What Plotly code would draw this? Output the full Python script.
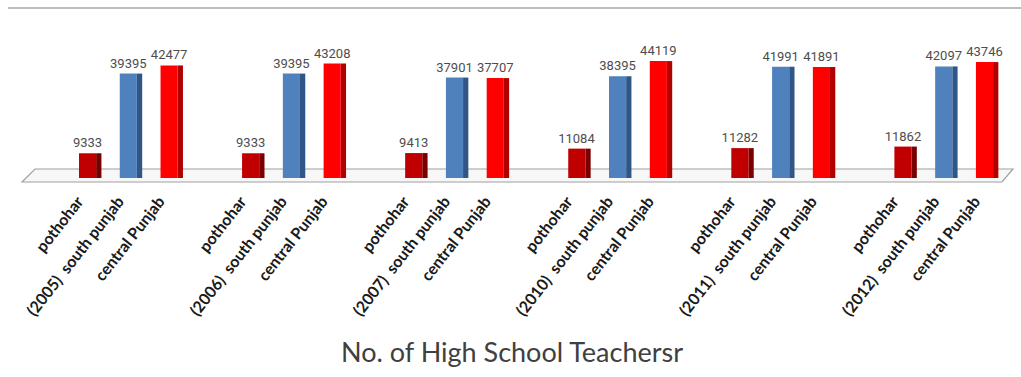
import plotly.graph_objects as go

years = ["2005", "2006", "2007", "2010", "2011", "2012"]
regions = ["pothohar", "south punjab", "central Punjab"]
pothohar = [9333, 9333, 9413, 11084, 11282, 11862]
south_punjab = [39395, 39395, 37901, 38395, 41991, 42097]
central_punjab = [42477, 43208, 37707, 44119, 41891, 43746]

series = [pothohar, south_punjab, central_punjab]
front_colors = ["#C00000", "#4F81BD", "#FF0000"]
side_colors = ["#7A0000", "#2F5687", "#B00000"]

W, H = 1021, 377
PT, PB = 10, 178  # plot area top/bottom pixels
LABEL_SHIFT = -0.3  # rotated tick labels sit slightly left of bar centres


def px(x):
    return x / W


def py(y):
    return (PB - y) / (PB - PT)


fig = go.Figure()

tickvals, ticktext = [], []
for j, (vals, region) in enumerate(zip(series, regions)):
    xs = [4 * i + j for i in range(len(years))]
    # darker side face
    fig.add_trace(go.Bar(
        x=xs, y=vals, width=0.13, offset=0.15,
        marker=dict(color=side_colors[j], line=dict(width=0)),
        hoverinfo="skip", showlegend=False,
    ))
    # front face with labels
    fig.add_trace(go.Bar(
        x=xs, y=vals, width=0.42, offset=-0.27,
        marker=dict(color=front_colors[j], line=dict(width=0)),
        text=[str(v) for v in vals], textposition="outside",
        constraintext="none", textangle=0,
        textfont=dict(family="Roboto", size=13, color="#4D4D4D"),
        cliponaxis=False, name=region, showlegend=False,
    ))
    for i, yr in enumerate(years):
        tickvals.append(4 * i + j + LABEL_SHIFT)
        if j == 1:
            ticktext.append("(" + yr + ")\u00a0\u00a0" + region)
        else:
            ticktext.append(region)

# floor plane
floor = (f"M {px(22)},{py(182)} L {px(35)},{py(169)} "
         f"L {px(1013)},{py(169)} L {px(1002)},{py(182)} Z")
fig.add_shape(type="path", path=floor, xref="paper", yref="paper",
              fillcolor="#F7F7F7", line=dict(color="#A0A0A0", width=1.2), layer="below")
# top rule
fig.add_shape(type="line", xref="paper", yref="paper",
              x0=px(8), x1=px(1021), y0=py(8), y1=py(8),
              line=dict(color="#A6A6A6", width=1.5))

fig.add_annotation(text="No. of High School Teachersr", xref="paper", yref="paper",
                   x=px(512), y=py(351), xanchor="center", yanchor="middle",
                   showarrow=False, font=dict(family="Lato", size=27, color="#404040"))

scale = 0.00265
fig.update_layout(
    width=W, height=H,
    margin=dict(l=0, r=0, t=PT, b=H - PB),
    plot_bgcolor="white", paper_bgcolor="white",
    barmode="overlay",
    xaxis=dict(range=[-90 / 40.77, (W - 90) / 40.77], tickvals=tickvals, ticktext=ticktext,
               tickangle=-52, showgrid=False, zeroline=False, showline=False,
               ticks="", ticklabelstandoff=10,
               tickfont=dict(family="Lato", size=16, color="#1A1A1A", weight="bold")),
    yaxis=dict(range=[0, (PB - PT) / scale], visible=False, showgrid=False),
)

fig.write_html("out.html")
